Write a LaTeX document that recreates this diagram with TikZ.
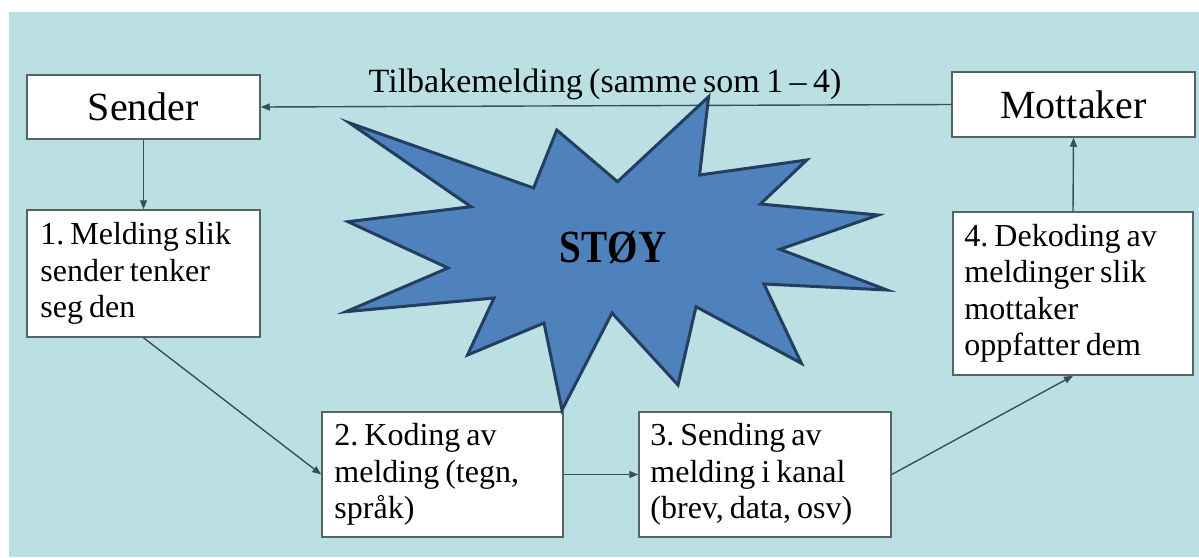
\documentclass[tikz,border=0pt]{standalone}
\usepackage{fontspec}
\setmainfont{Liberation Serif}[WordSpace=0.75]
\usetikzlibrary{arrows.meta}
\definecolor{bg}{RGB}{187,224,227}
\definecolor{linec}{RGB}{55,80,85}
\definecolor{boxc}{RGB}{85,100,100}
\definecolor{starfill}{RGB}{79,129,189}
\definecolor{starline}{RGB}{36,62,96}
\tikzset{
  box/.style={draw=boxc, line width=1.5pt, fill=white, inner sep=0pt},
  conn/.style={draw=linec, line width=1.4pt, -{Triangle[length=9pt,width=7pt]}},
  txt/.style={align=left, inner sep=0pt, font=\fontsize{32}{36.5}\selectfont, anchor=west},
  bigtxt/.style={font=\fontsize{40}{44}\selectfont},
  startxt/.style={font=\fontsize{46}{46}\selectfont\bfseries},
  starshape/.style={draw=starline, fill=starfill, line width=3pt, line join=miter},
}
\frenchspacing
\begin{document}
\frenchspacing
\begin{tikzpicture}[x=1pt,y=-1pt]
\useasboundingbox (0,0) rectangle (1199,557);
\fill[white] (0,0) rectangle (1199,557);
\fill[bg] (9,12) rectangle (1199,557);

% boxes
\node[box, bigtxt, minimum width=233pt, minimum height=64pt] (sender) at (143.5,107) {Sender};
\node[box, bigtxt, minimum width=243pt, minimum height=65pt] (mott) at (1073.5,104.5) {Mottaker};
\node[box, minimum width=233pt, minimum height=127pt] (b1) at (143.5,273.5) {};
\node[box, minimum width=241pt, minimum height=125pt] (b2) at (442.5,474.5) {};
\node[box, minimum width=252pt, minimum height=125pt] (b3) at (765,474.5) {};
\node[box, minimum width=240pt, minimum height=163pt] (b4) at (1073,293.5) {};

\node[txt] (t1) at ([xshift=14pt]b1.west) {1. Melding slik\\sender tenker\\seg den};
\node[txt] (t2) at ([xshift=13pt]b2.west) {2. Koding av\\melding (tegn,\\språk)};
\node[txt] (t3) at ([xshift=12pt]b3.west) {3. Sending av\\melding i kanal\\(brev, data, osv)};
\node[txt] (t4) at ([xshift=12pt]b4.west) {4. Dekoding av\\meldinger slik\\mottaker\\oppfatter dem};

% connectors
\draw[conn] (mott.west) -- (sender.east);
\node[font=\fontsize{34}{38}\selectfont, anchor=base, inner sep=0pt] (fb) at (605,92) {Tilbakemelding (samme som 1 – 4)};
\draw[conn] (sender.south) -- (b1.north);
\draw[conn] (b1.south) -- (b2.west);
\draw[conn] (b2.east) -- (b3.west);
\draw[conn] (b3.east) -- (b4.south);
\draw[conn] (b4.north) -- (mott.south);

% noise star
\draw[starshape] (708.6,96.7) -- (699.6,175) -- (806.8,160) -- (760.4,204)
  -- (878.2,215) -- (780,249.3) -- (887,290) -- (764,284) -- (801.4,363.3)
  -- (696,306.7) -- (678,385) -- (612,313) -- (562,410) -- (544,323)
  -- (467.5,355) -- (494,298) -- (346,311.7) -- (448,268) -- (348,221.7)
  -- (471,206.7) -- (349.6,123) -- (533.6,188) -- (556.8,130) -- (617.5,181.7)
  -- cycle;
\node[startxt] (stoy) at (613,247) {\scalebox{0.85}[1]{STØY}};
\end{tikzpicture}
\end{document}
